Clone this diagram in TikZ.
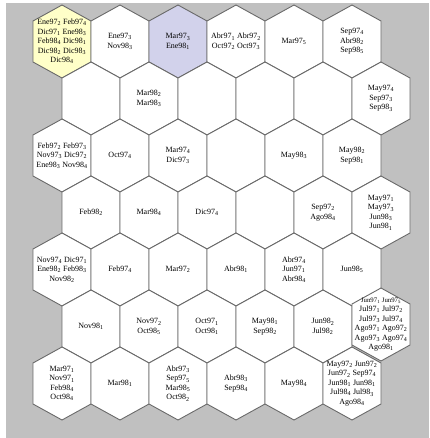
\documentclass[tikz,border=0pt]{standalone}
\usepackage{fontspec}
\setmainfont{Liberation Serif}
\definecolor{bggrey}{RGB}{192,192,192}
\definecolor{hexedge}{RGB}{105,105,105}
\definecolor{hexyellow}{RGB}{255,255,200}
\definecolor{hexpurple}{RGB}{210,210,235}
\newcommand\lb[2]{#1\textsubscript{#2}}
\newcommand\hexcell[5]{%
  \filldraw[hexline,fill=#3] (#1,#2) ++(0,-36.5) -- ++(29,16) -- ++(0,41) -- ++(-29,16) -- ++(-29,-16) -- ++(0,-41) -- cycle;
  \node[celltext] (#4) at (#1,#2) {#5};}
\tikzset{
  hexline/.style={draw=hexedge,line width=0.9pt,line join=miter},
  celltext/.style={align=center,inner sep=0pt,font=\fontsize{8}{9.5}\selectfont},
  densetext/.style={font=\fontsize{6.8}{8.6}\selectfont}
}
\begin{document}
\begin{tikzpicture}[x=1pt,y=-1pt]
\useasboundingbox (0,0) rectangle (429,438);
\fill[bggrey] (6,3) rectangle (429,438);
% row 0
\hexcell{62}{41.5}{hexyellow}{h00}{\lb{Ene97}{2} \lb{Feb97}{4}\\\lb{Dic97}{1} \lb{Ene98}{3}\\\lb{Feb98}{4} \lb{Dic98}{1}\\\lb{Dic98}{2} \lb{Dic98}{3}\\\lb{Dic98}{4}}
\hexcell{120}{41.5}{white}{h01}{\lb{Ene97}{3}\\\lb{Nov98}{3}}
\hexcell{178}{41.5}{hexpurple}{h02}{\lb{Mar97}{3}\\\lb{Ene98}{1}}
\hexcell{236}{41.5}{white}{h03}{\lb{Abr97}{1} \lb{Abr97}{2}\\\lb{Oct97}{2} \lb{Oct97}{3}}
\hexcell{294}{41.5}{white}{h04}{\lb{Mar97}{5}}
\hexcell{352}{41.5}{white}{h05}{\lb{Sep97}{4}\\\lb{Abr98}{2}\\\lb{Sep98}{5}}
% row 1
\hexcell{91}{98.5}{white}{h10}{}
\hexcell{149}{98.5}{white}{h11}{\lb{Mar98}{2}\\\lb{Mar98}{3}}
\hexcell{207}{98.5}{white}{h12}{}
\hexcell{265}{98.5}{white}{h13}{}
\hexcell{323}{98.5}{white}{h14}{}
\hexcell{381}{98.5}{white}{h15}{\lb{May97}{4}\\\lb{Sep97}{3}\\\lb{Sep98}{3}}
% row 2
\hexcell{62}{155.5}{white}{h20}{\lb{Feb97}{2} \lb{Feb97}{3}\\\lb{Nov97}{3} \lb{Dic97}{2}\\\lb{Ene98}{3} \lb{Nov98}{4}}
\hexcell{120}{155.5}{white}{h21}{\lb{Oct97}{4}}
\hexcell{178}{155.5}{white}{h22}{\lb{Mar97}{4}\\\lb{Dic97}{3}}
\hexcell{236}{155.5}{white}{h23}{}
\hexcell{294}{155.5}{white}{h24}{\lb{May98}{3}}
\hexcell{352}{155.5}{white}{h25}{\lb{May98}{2}\\\lb{Sep98}{1}}
% row 3
\hexcell{91}{212.5}{white}{h30}{\lb{Feb98}{2}}
\hexcell{149}{212.5}{white}{h31}{\lb{Mar98}{4}}
\hexcell{207}{212.5}{white}{h32}{\lb{Dic97}{4}}
\hexcell{265}{212.5}{white}{h33}{}
\hexcell{323}{212.5}{white}{h34}{\lb{Sep97}{2}\\\lb{Ago98}{4}}
\hexcell{381}{212.5}{white}{h35}{\lb{May97}{1}\\\lb{May97}{3}\\\lb{Jun98}{3}\\\lb{Jun98}{1}}
% row 4
\hexcell{62}{269.5}{white}{h40}{\lb{Nov97}{4} \lb{Dic97}{1}\\\lb{Ene98}{2} \lb{Feb98}{3}\\\lb{Nov98}{2}}
\hexcell{120}{269.5}{white}{h41}{\lb{Feb97}{4}}
\hexcell{178}{269.5}{white}{h42}{\lb{Mar97}{2}}
\hexcell{236}{269.5}{white}{h43}{\lb{Abr98}{1}}
\hexcell{294}{269.5}{white}{h44}{\lb{Abr97}{4}\\\lb{Jun97}{1}\\\lb{Abr98}{4}}
\hexcell{352}{269.5}{white}{h45}{\lb{Jun98}{5}}
% row 5
\hexcell{91}{326.5}{white}{h50}{\lb{Nov98}{1}}
\hexcell{149}{326.5}{white}{h51}{\lb{Nov97}{2}\\\lb{Oct98}{5}}
\hexcell{207}{326.5}{white}{h52}{\lb{Oct97}{1}\\\lb{Oct98}{1}}
\hexcell{265}{326.5}{white}{h53}{\lb{May98}{1}\\\lb{Sep98}{2}}
\hexcell{323}{326.5}{white}{h54}{\lb{Jun98}{2}\\\lb{Jul98}{2}}
\hexcell{381}{324.5}{white}{h55}{\fontsize{6.8}{8.6}\selectfont\lb{Jun97}{1} \lb{Jun97}{5}\\\lb{Jul97}{1} \lb{Jul97}{2}\\\lb{Jul97}{3} \lb{Jul97}{4}\\\lb{Ago97}{1} \lb{Ago97}{2}\\\lb{Ago97}{3} \lb{Ago97}{4}\\\lb{Ago98}{1}}
% row 6
\hexcell{62}{383.5}{white}{h60}{\lb{Mar97}{1}\\\lb{Nov97}{1}\\\lb{Feb98}{4}\\\lb{Oct98}{4}}
\hexcell{120}{383.5}{white}{h61}{\lb{Mar98}{1}}
\hexcell{178}{383.5}{white}{h62}{\lb{Abr97}{3}\\\lb{Sep97}{5}\\\lb{Mar98}{5}\\\lb{Oct98}{2}}
\hexcell{236}{383.5}{white}{h63}{\lb{Abr98}{3}\\\lb{Sep98}{4}}
\hexcell{294}{383.5}{white}{h64}{\lb{May98}{4}}
\hexcell{352}{383.5}{white}{h65}{\lb{May97}{2} \lb{Jun97}{2}\\\lb{Jun97}{2} \lb{Sep97}{4}\\\lb{Jun98}{1} \lb{Jun98}{1}\\\lb{Jul98}{4} \lb{Jul98}{3}\\\lb{Ago98}{4}}
\end{tikzpicture}
\end{document}
